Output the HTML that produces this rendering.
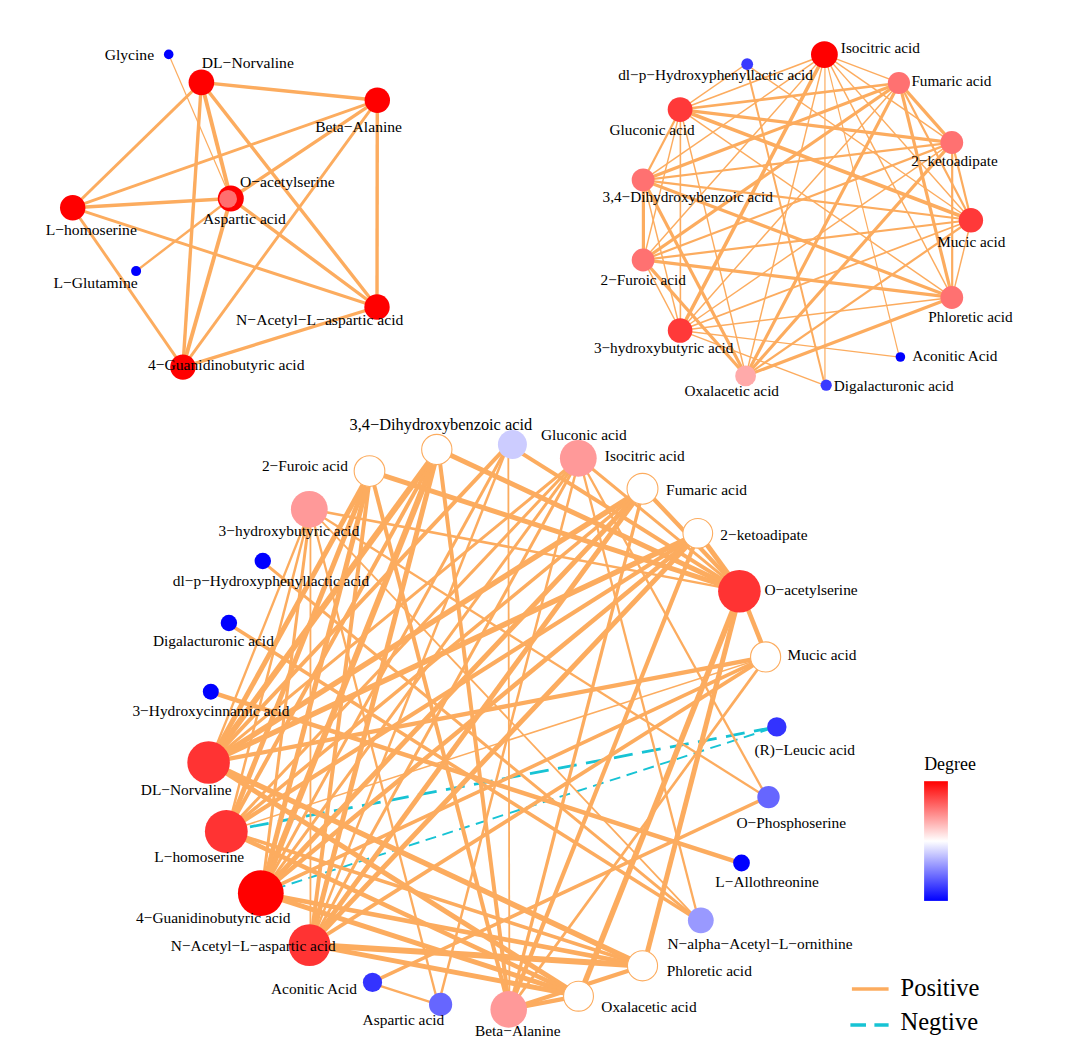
<!DOCTYPE html>
<html><head><meta charset="utf-8"><style>
html,body{margin:0;padding:0;background:#fff;}
svg{display:block;}
</style></head><body>
<svg width="1088" height="1058" viewBox="0 0 1088 1058">
<rect width="1088" height="1058" fill="#FFFFFF"/>
<g stroke-linecap="butt">
<line x1="201.4" y1="82.4" x2="377.3" y2="100.3" stroke="#FCAC5F" stroke-width="3.4"/>
<line x1="201.4" y1="82.4" x2="72.7" y2="207.7" stroke="#FCAC5F" stroke-width="2.9"/>
<line x1="201.4" y1="82.4" x2="230.8" y2="198.5" stroke="#FCAC5F" stroke-width="3.9"/>
<line x1="201.4" y1="82.4" x2="182.9" y2="367.1" stroke="#FCAC5F" stroke-width="3.4"/>
<line x1="201.4" y1="82.4" x2="377" y2="307" stroke="#FCAC5F" stroke-width="3.4"/>
<line x1="168.7" y1="54.4" x2="230.8" y2="198.5" stroke="#FCAC5F" stroke-width="1.2"/>
<line x1="377.3" y1="100.3" x2="72.7" y2="207.7" stroke="#FCAC5F" stroke-width="2.9"/>
<line x1="377.3" y1="100.3" x2="230.8" y2="198.5" stroke="#FCAC5F" stroke-width="3.4"/>
<line x1="377.3" y1="100.3" x2="377" y2="307" stroke="#FCAC5F" stroke-width="3.4"/>
<line x1="377.3" y1="100.3" x2="182.9" y2="367.1" stroke="#FCAC5F" stroke-width="2.9"/>
<line x1="72.7" y1="207.7" x2="230.8" y2="198.5" stroke="#FCAC5F" stroke-width="3.4"/>
<line x1="72.7" y1="207.7" x2="377" y2="307" stroke="#FCAC5F" stroke-width="2.9"/>
<line x1="72.7" y1="207.7" x2="182.9" y2="367.1" stroke="#FCAC5F" stroke-width="2.9"/>
<line x1="136.1" y1="271.1" x2="230.8" y2="198.5" stroke="#FCAC5F" stroke-width="2.4"/>
<line x1="230.8" y1="198.5" x2="182.9" y2="367.1" stroke="#FCAC5F" stroke-width="3.9"/>
<line x1="230.8" y1="198.5" x2="377" y2="307" stroke="#FCAC5F" stroke-width="3.4"/>
<line x1="377" y1="307" x2="182.9" y2="367.1" stroke="#FCAC5F" stroke-width="3.4"/>
<line x1="824.94" y1="54.64" x2="680.38" y2="109.55" stroke="#FCAC5F" stroke-width="1.6"/>
<line x1="824.94" y1="54.64" x2="643.39" y2="180.15" stroke="#FCAC5F" stroke-width="1.45"/>
<line x1="824.94" y1="54.64" x2="643.39" y2="259.88" stroke="#FCAC5F" stroke-width="1.45"/>
<line x1="824.94" y1="54.64" x2="680.38" y2="330.48" stroke="#FCAC5F" stroke-width="3.6"/>
<line x1="824.94" y1="54.64" x2="745.91" y2="375.78" stroke="#FCAC5F" stroke-width="1.45"/>
<line x1="824.94" y1="54.64" x2="824.94" y2="385.39" stroke="#FCAC5F" stroke-width="1.2"/>
<line x1="824.94" y1="54.64" x2="899.38" y2="357.12" stroke="#FCAC5F" stroke-width="1.2"/>
<line x1="824.94" y1="54.64" x2="952.18" y2="297.43" stroke="#FCAC5F" stroke-width="1.45"/>
<line x1="824.94" y1="54.64" x2="971.23" y2="220.01" stroke="#FCAC5F" stroke-width="1.45"/>
<line x1="824.94" y1="54.64" x2="952.18" y2="142.6" stroke="#FCAC5F" stroke-width="1.45"/>
<line x1="824.94" y1="54.64" x2="899.38" y2="82.91" stroke="#FCAC5F" stroke-width="1.45"/>
<line x1="899.38" y1="357.12" x2="680.38" y2="330.48" stroke="#FCAC5F" stroke-width="1.35"/>
<line x1="824.94" y1="385.39" x2="745.91" y2="64.25" stroke="#FCAC5F" stroke-width="2"/>
<line x1="824.94" y1="385.39" x2="680.38" y2="330.48" stroke="#FCAC5F" stroke-width="1.35"/>
<line x1="745.91" y1="64.25" x2="680.38" y2="109.55" stroke="#FCAC5F" stroke-width="1.45"/>
<line x1="745.91" y1="64.25" x2="971.23" y2="220.01" stroke="#FCAC5F" stroke-width="1.45"/>
<line x1="680.38" y1="109.55" x2="899.38" y2="82.91" stroke="#FCAC5F" stroke-width="2.5"/>
<line x1="680.38" y1="109.55" x2="952.18" y2="142.6" stroke="#FCAC5F" stroke-width="3.2"/>
<line x1="680.38" y1="109.55" x2="971.23" y2="220.01" stroke="#FCAC5F" stroke-width="3.6"/>
<line x1="680.38" y1="109.55" x2="952.18" y2="297.43" stroke="#FCAC5F" stroke-width="1.45"/>
<line x1="680.38" y1="109.55" x2="643.39" y2="180.15" stroke="#FCAC5F" stroke-width="2.2"/>
<line x1="680.38" y1="109.55" x2="643.39" y2="259.88" stroke="#FCAC5F" stroke-width="1.45"/>
<line x1="680.38" y1="109.55" x2="680.38" y2="330.48" stroke="#FCAC5F" stroke-width="1.6"/>
<line x1="680.38" y1="109.55" x2="745.91" y2="375.78" stroke="#FCAC5F" stroke-width="1.45"/>
<line x1="899.38" y1="82.91" x2="643.39" y2="180.15" stroke="#FCAC5F" stroke-width="3.2"/>
<line x1="899.38" y1="82.91" x2="643.39" y2="259.88" stroke="#FCAC5F" stroke-width="3.2"/>
<line x1="899.38" y1="82.91" x2="680.38" y2="330.48" stroke="#FCAC5F" stroke-width="1.45"/>
<line x1="899.38" y1="82.91" x2="745.91" y2="375.78" stroke="#FCAC5F" stroke-width="3.2"/>
<line x1="899.38" y1="82.91" x2="952.18" y2="297.43" stroke="#FCAC5F" stroke-width="3.2"/>
<line x1="899.38" y1="82.91" x2="971.23" y2="220.01" stroke="#FCAC5F" stroke-width="2.2"/>
<line x1="899.38" y1="82.91" x2="952.18" y2="142.6" stroke="#FCAC5F" stroke-width="3.2"/>
<line x1="952.18" y1="142.6" x2="643.39" y2="180.15" stroke="#FCAC5F" stroke-width="2.2"/>
<line x1="952.18" y1="142.6" x2="643.39" y2="259.88" stroke="#FCAC5F" stroke-width="2.2"/>
<line x1="952.18" y1="142.6" x2="680.38" y2="330.48" stroke="#FCAC5F" stroke-width="1.45"/>
<line x1="952.18" y1="142.6" x2="745.91" y2="375.78" stroke="#FCAC5F" stroke-width="3.2"/>
<line x1="952.18" y1="142.6" x2="952.18" y2="297.43" stroke="#FCAC5F" stroke-width="2.2"/>
<line x1="952.18" y1="142.6" x2="971.23" y2="220.01" stroke="#FCAC5F" stroke-width="2.2"/>
<line x1="971.23" y1="220.01" x2="643.39" y2="180.15" stroke="#FCAC5F" stroke-width="2.2"/>
<line x1="971.23" y1="220.01" x2="643.39" y2="259.88" stroke="#FCAC5F" stroke-width="2.2"/>
<line x1="971.23" y1="220.01" x2="680.38" y2="330.48" stroke="#FCAC5F" stroke-width="1.8"/>
<line x1="971.23" y1="220.01" x2="745.91" y2="375.78" stroke="#FCAC5F" stroke-width="2.2"/>
<line x1="971.23" y1="220.01" x2="952.18" y2="297.43" stroke="#FCAC5F" stroke-width="1.45"/>
<line x1="952.18" y1="297.43" x2="643.39" y2="180.15" stroke="#FCAC5F" stroke-width="3.2"/>
<line x1="952.18" y1="297.43" x2="643.39" y2="259.88" stroke="#FCAC5F" stroke-width="3.2"/>
<line x1="952.18" y1="297.43" x2="680.38" y2="330.48" stroke="#FCAC5F" stroke-width="1.45"/>
<line x1="952.18" y1="297.43" x2="745.91" y2="375.78" stroke="#FCAC5F" stroke-width="3.2"/>
<line x1="643.39" y1="180.15" x2="745.91" y2="375.78" stroke="#FCAC5F" stroke-width="3.2"/>
<line x1="643.39" y1="180.15" x2="680.38" y2="330.48" stroke="#FCAC5F" stroke-width="1.45"/>
<line x1="643.39" y1="180.15" x2="643.39" y2="259.88" stroke="#FCAC5F" stroke-width="3.2"/>
<line x1="643.39" y1="259.88" x2="745.91" y2="375.78" stroke="#FCAC5F" stroke-width="3.2"/>
<line x1="643.39" y1="259.88" x2="680.38" y2="330.48" stroke="#FCAC5F" stroke-width="1.45"/>
<line x1="775.78" y1="727.06" x2="227.35" y2="831.11" stroke="#17C3D4" stroke-width="2.8" stroke-dasharray="19 9.5" stroke-dashoffset="-3.2"/>
<line x1="775.78" y1="727.06" x2="261.67" y2="893.2" stroke="#17C3D4" stroke-width="1.9" stroke-dasharray="11 6.6" stroke-dashoffset="-5"/>
<line x1="438.34" y1="449.4" x2="209.64" y2="762.48" stroke="#FCAC5F" stroke-width="6"/>
<line x1="438.34" y1="449.4" x2="227.35" y2="831.11" stroke="#FCAC5F" stroke-width="4"/>
<line x1="438.34" y1="449.4" x2="261.67" y2="893.2" stroke="#FCAC5F" stroke-width="6"/>
<line x1="438.34" y1="449.4" x2="310.44" y2="944.85" stroke="#FCAC5F" stroke-width="5"/>
<line x1="438.34" y1="449.4" x2="509.43" y2="1009.16" stroke="#FCAC5F" stroke-width="4"/>
<line x1="438.34" y1="449.4" x2="740.63" y2="590.88" stroke="#FCAC5F" stroke-width="5"/>
<line x1="370.59" y1="471.3" x2="740.63" y2="590.88" stroke="#FCAC5F" stroke-width="5"/>
<line x1="370.59" y1="471.3" x2="509.43" y2="1009.16" stroke="#FCAC5F" stroke-width="4"/>
<line x1="370.59" y1="471.3" x2="209.64" y2="762.48" stroke="#FCAC5F" stroke-width="5"/>
<line x1="370.59" y1="471.3" x2="227.35" y2="831.11" stroke="#FCAC5F" stroke-width="5"/>
<line x1="370.59" y1="471.3" x2="261.67" y2="893.2" stroke="#FCAC5F" stroke-width="5"/>
<line x1="370.59" y1="471.3" x2="310.44" y2="944.85" stroke="#FCAC5F" stroke-width="4"/>
<line x1="579.41" y1="458.23" x2="740.63" y2="590.88" stroke="#FCAC5F" stroke-width="3"/>
<line x1="579.41" y1="458.23" x2="766.85" y2="797.35" stroke="#FCAC5F" stroke-width="2.3"/>
<line x1="579.41" y1="458.23" x2="698.75" y2="920.55" stroke="#FCAC5F" stroke-width="2.3"/>
<line x1="579.41" y1="458.23" x2="438.34" y2="1004.71" stroke="#FCAC5F" stroke-width="2.5"/>
<line x1="579.41" y1="458.23" x2="209.64" y2="762.48" stroke="#FCAC5F" stroke-width="3"/>
<line x1="579.41" y1="458.23" x2="227.35" y2="831.11" stroke="#FCAC5F" stroke-width="3"/>
<line x1="579.41" y1="458.23" x2="261.67" y2="893.2" stroke="#FCAC5F" stroke-width="3"/>
<line x1="579.41" y1="458.23" x2="310.44" y2="944.85" stroke="#FCAC5F" stroke-width="3"/>
<line x1="310.44" y1="509.26" x2="740.63" y2="590.88" stroke="#FCAC5F" stroke-width="2.5"/>
<line x1="310.44" y1="509.26" x2="766.85" y2="797.35" stroke="#FCAC5F" stroke-width="2.3"/>
<line x1="310.44" y1="509.26" x2="438.34" y2="1004.71" stroke="#FCAC5F" stroke-width="2.3"/>
<line x1="310.44" y1="509.26" x2="310.44" y2="944.85" stroke="#FCAC5F" stroke-width="1.8"/>
<line x1="310.44" y1="509.26" x2="261.67" y2="893.2" stroke="#FCAC5F" stroke-width="3"/>
<line x1="310.44" y1="509.26" x2="227.35" y2="831.11" stroke="#FCAC5F" stroke-width="2.5"/>
<line x1="310.44" y1="509.26" x2="209.64" y2="762.48" stroke="#FCAC5F" stroke-width="2.3"/>
<line x1="310.44" y1="509.26" x2="698.75" y2="920.55" stroke="#FCAC5F" stroke-width="1.8"/>
<line x1="508.3" y1="444.95" x2="740.63" y2="590.88" stroke="#FCAC5F" stroke-width="4"/>
<line x1="508.3" y1="444.95" x2="509.43" y2="1009.16" stroke="#FCAC5F" stroke-width="1.8"/>
<line x1="508.3" y1="444.95" x2="209.64" y2="762.48" stroke="#FCAC5F" stroke-width="4"/>
<line x1="508.3" y1="444.95" x2="261.67" y2="893.2" stroke="#FCAC5F" stroke-width="3"/>
<line x1="508.3" y1="444.95" x2="310.44" y2="944.85" stroke="#FCAC5F" stroke-width="2.5"/>
<line x1="261.67" y1="560.91" x2="698.75" y2="920.55" stroke="#FCAC5F" stroke-width="3"/>
<line x1="227.35" y1="623" x2="698.75" y2="920.55" stroke="#FCAC5F" stroke-width="3.5"/>
<line x1="209.64" y1="691.63" x2="740.63" y2="863.23" stroke="#FCAC5F" stroke-width="4.5"/>
<line x1="370.59" y1="982.81" x2="766.85" y2="797.35" stroke="#FCAC5F" stroke-width="3.5"/>
<line x1="370.59" y1="982.81" x2="438.34" y2="1004.71" stroke="#FCAC5F" stroke-width="2.3"/>
<line x1="643.86" y1="488.4" x2="209.64" y2="762.48" stroke="#FCAC5F" stroke-width="5.5"/>
<line x1="643.86" y1="488.4" x2="227.35" y2="831.11" stroke="#FCAC5F" stroke-width="3.5"/>
<line x1="643.86" y1="488.4" x2="261.67" y2="893.2" stroke="#FCAC5F" stroke-width="5"/>
<line x1="643.86" y1="488.4" x2="310.44" y2="944.85" stroke="#FCAC5F" stroke-width="5"/>
<line x1="643.86" y1="488.4" x2="740.63" y2="590.88" stroke="#FCAC5F" stroke-width="4.3"/>
<line x1="643.86" y1="488.4" x2="509.43" y2="1009.16" stroke="#FCAC5F" stroke-width="3.3"/>
<line x1="698.75" y1="533.56" x2="209.64" y2="762.48" stroke="#FCAC5F" stroke-width="5.5"/>
<line x1="698.75" y1="533.56" x2="227.35" y2="831.11" stroke="#FCAC5F" stroke-width="4.2"/>
<line x1="698.75" y1="533.56" x2="261.67" y2="893.2" stroke="#FCAC5F" stroke-width="4.5"/>
<line x1="698.75" y1="533.56" x2="310.44" y2="944.85" stroke="#FCAC5F" stroke-width="5"/>
<line x1="698.75" y1="533.56" x2="740.63" y2="590.88" stroke="#FCAC5F" stroke-width="5"/>
<line x1="698.75" y1="533.56" x2="509.43" y2="1009.16" stroke="#FCAC5F" stroke-width="4.2"/>
<line x1="766.85" y1="656.76" x2="209.64" y2="762.48" stroke="#FCAC5F" stroke-width="4.3"/>
<line x1="766.85" y1="656.76" x2="227.35" y2="831.11" stroke="#FCAC5F" stroke-width="1.5"/>
<line x1="766.85" y1="656.76" x2="261.67" y2="893.2" stroke="#FCAC5F" stroke-width="3.6"/>
<line x1="766.85" y1="656.76" x2="310.44" y2="944.85" stroke="#FCAC5F" stroke-width="3.8"/>
<line x1="766.85" y1="656.76" x2="740.63" y2="590.88" stroke="#FCAC5F" stroke-width="4.5"/>
<line x1="766.85" y1="656.76" x2="509.43" y2="1009.16" stroke="#FCAC5F" stroke-width="2.7"/>
<line x1="643.86" y1="965.71" x2="209.64" y2="762.48" stroke="#FCAC5F" stroke-width="5.5"/>
<line x1="643.86" y1="965.71" x2="227.35" y2="831.11" stroke="#FCAC5F" stroke-width="3.6"/>
<line x1="643.86" y1="965.71" x2="261.67" y2="893.2" stroke="#FCAC5F" stroke-width="4.7"/>
<line x1="643.86" y1="965.71" x2="310.44" y2="944.85" stroke="#FCAC5F" stroke-width="6"/>
<line x1="643.86" y1="965.71" x2="740.63" y2="590.88" stroke="#FCAC5F" stroke-width="5"/>
<line x1="643.86" y1="965.71" x2="509.43" y2="1009.16" stroke="#FCAC5F" stroke-width="4.2"/>
<line x1="579.41" y1="995.88" x2="209.64" y2="762.48" stroke="#FCAC5F" stroke-width="5"/>
<line x1="579.41" y1="995.88" x2="227.35" y2="831.11" stroke="#FCAC5F" stroke-width="4.5"/>
<line x1="579.41" y1="995.88" x2="261.67" y2="893.2" stroke="#FCAC5F" stroke-width="5"/>
<line x1="579.41" y1="995.88" x2="310.44" y2="944.85" stroke="#FCAC5F" stroke-width="5"/>
<line x1="579.41" y1="995.88" x2="740.63" y2="590.88" stroke="#FCAC5F" stroke-width="5.5"/>
<line x1="579.41" y1="995.88" x2="509.43" y2="1009.16" stroke="#FCAC5F" stroke-width="4.5"/>
</g>
<circle cx="168.7" cy="54.4" r="4.8" fill="#0000FF"/>
<circle cx="201.4" cy="82.4" r="12.8" fill="#FF0000"/>
<circle cx="377.3" cy="100.3" r="12.7" fill="#FF0000"/>
<circle cx="230.8" cy="198.5" r="13" fill="#FF0000"/>
<circle cx="228.1" cy="198.9" r="8.9" fill="#FF6F6F"/>
<circle cx="72.7" cy="207.7" r="12.7" fill="#FF0000"/>
<circle cx="136.1" cy="271.1" r="5" fill="#0000FF"/>
<circle cx="377" cy="307" r="12.7" fill="#FF0000"/>
<circle cx="182.9" cy="367.1" r="12.7" fill="#FF0000"/>
<circle cx="824.4" cy="54.6" r="13.4" fill="#FF0000"/>
<circle cx="747.2" cy="64.2" r="5.9" fill="#3939FF"/>
<circle cx="898.9" cy="83" r="11.1" fill="#FF7171"/>
<circle cx="680.1" cy="109.6" r="12.4" fill="#FF3939"/>
<circle cx="951.8" cy="142.5" r="11.4" fill="#FF7171"/>
<circle cx="643.1" cy="179.9" r="11.4" fill="#FF7171"/>
<circle cx="970.9" cy="220.3" r="12.2" fill="#FF3939"/>
<circle cx="643.1" cy="260" r="11.4" fill="#FF7171"/>
<circle cx="951.8" cy="297.5" r="11.4" fill="#FF7171"/>
<circle cx="680.1" cy="330.5" r="12.3" fill="#FF3939"/>
<circle cx="900.4" cy="357" r="4.8" fill="#0000FF"/>
<circle cx="745.6" cy="375.9" r="10.4" fill="#FFAAAA"/>
<circle cx="826.2" cy="385.2" r="5.6" fill="#3939FF"/>
<circle cx="436.8" cy="449.5" r="15.15" fill="#FFFFFF" stroke="#FCAC5F" stroke-width="1.1"/>
<circle cx="512.4" cy="444.5" r="14.5" fill="#CCCCFF"/>
<circle cx="578.3" cy="458.3" r="18.4" fill="#FF9999"/>
<circle cx="369.5" cy="471.1" r="15.35" fill="#FFFFFF" stroke="#FCAC5F" stroke-width="1.1"/>
<circle cx="642.5" cy="488.8" r="15.45" fill="#FFFFFF" stroke="#FCAC5F" stroke-width="1.1"/>
<circle cx="309.3" cy="509.3" r="18.4" fill="#FF9999"/>
<circle cx="697.8" cy="533.3" r="14.85" fill="#FFFFFF" stroke="#FCAC5F" stroke-width="1.1"/>
<circle cx="262.8" cy="561" r="8.2" fill="#0000FF"/>
<circle cx="739.4" cy="591.2" r="21.3" fill="#FF3333"/>
<circle cx="228.9" cy="623" r="8.2" fill="#0000FF"/>
<circle cx="765.6" cy="656.9" r="15.05" fill="#FFFFFF" stroke="#FCAC5F" stroke-width="1.1"/>
<circle cx="210.8" cy="691.7" r="8" fill="#0000FF"/>
<circle cx="776.8" cy="726.9" r="9.7" fill="#3333FF"/>
<circle cx="208.6" cy="762.5" r="21.3" fill="#FF3333"/>
<circle cx="768.5" cy="797.1" r="11.2" fill="#6666FF"/>
<circle cx="226.3" cy="831.5" r="21.4" fill="#FF3333"/>
<circle cx="741.5" cy="863" r="8.4" fill="#0000FF"/>
<circle cx="260.8" cy="893.2" r="22.9" fill="#FF0000"/>
<circle cx="700.8" cy="920.3" r="12.9" fill="#9999FF"/>
<circle cx="309.5" cy="945.1" r="20.9" fill="#FF3333"/>
<circle cx="642.5" cy="965.8" r="15.05" fill="#FFFFFF" stroke="#FCAC5F" stroke-width="1.1"/>
<circle cx="372.5" cy="982.4" r="9.6" fill="#3333FF"/>
<circle cx="578.5" cy="996.2" r="14.95" fill="#FFFFFF" stroke="#FCAC5F" stroke-width="1.1"/>
<circle cx="440.6" cy="1004.4" r="11.6" fill="#6666FF"/>
<circle cx="508.7" cy="1009.4" r="18.3" fill="#FF9999"/>
<g font-family="Liberation Serif, serif" fill="#000">
<text x="104.7" y="60" font-size="15.61">Glycine</text>
<text x="201.8" y="67.7" font-size="15.61">DL−Norvaline</text>
<text x="315.2" y="131.7" font-size="15.61">Beta−Alanine</text>
<text x="240" y="187" font-size="15.61">O−acetylserine</text>
<text x="203.1" y="224.2" font-size="15.61">Aspartic acid</text>
<text x="45.7" y="235" font-size="15.61">L−homoserine</text>
<text x="53.4" y="288.2" font-size="15.61">L−Glutamine</text>
<text x="236.1" y="324.7" font-size="15.61">N−Acetyl−L−aspartic acid</text>
<text x="147.9" y="369.6" font-size="15.61">4−Guanidinobutyric acid</text>
<text x="840.8" y="52.9" font-size="15.25">Isocitric acid</text>
<text x="618.2" y="79.7" font-size="15.25">dl−p−Hydroxyphenyllactic acid</text>
<text x="911.4" y="86.2" font-size="15.25">Fumaric acid</text>
<text x="609.6" y="134.7" font-size="15.25">Gluconic acid</text>
<text x="911.2" y="166.2" font-size="15.25">2−ketoadipate</text>
<text x="602.5" y="201.7" font-size="15.25">3,4−Dihydroxybenzoic acid</text>
<text x="937.2" y="246.5" font-size="15.25">Mucic acid</text>
<text x="600.6" y="284.5" font-size="15.25">2−Furoic acid</text>
<text x="928.3" y="321.8" font-size="15.25">Phloretic acid</text>
<text x="593.9" y="353.1" font-size="15.25">3−hydroxybutyric acid</text>
<text x="912.3" y="360.9" font-size="15.25">Aconitic Acid</text>
<text x="684.6" y="395.9" font-size="15.25">Oxalacetic acid</text>
<text x="833.8" y="391.4" font-size="15.25">Digalacturonic acid</text>
<text x="349.6" y="430.2" font-size="16.35">3,4−Dihydroxybenzoic acid</text>
<text x="540.9" y="439.9" font-size="15.4">Gluconic acid</text>
<text x="604.8" y="460.6" font-size="15.4">Isocitric acid</text>
<text x="261.9" y="470.9" font-size="15.4">2−Furoic acid</text>
<text x="666.1" y="494.6" font-size="15.4">Fumaric acid</text>
<text x="218.6" y="536" font-size="15.4">3−hydroxybutyric acid</text>
<text x="720.3" y="540.2" font-size="15.4">2−ketoadipate</text>
<text x="172.8" y="585.7" font-size="15.4">dl−p−Hydroxyphenyllactic acid</text>
<text x="764.4" y="594.7" font-size="15.4">O−acetylserine</text>
<text x="152.9" y="646.2" font-size="15.4">Digalacturonic acid</text>
<text x="787.6" y="660.2" font-size="15.4">Mucic acid</text>
<text x="132.4" y="715.6" font-size="15.4">3−Hydroxycinnamic acid</text>
<text x="754.4" y="754.5" font-size="15.4">(R)−Leucic acid</text>
<text x="140.8" y="795.1" font-size="15.4">DL−Norvaline</text>
<text x="736.5" y="827.9" font-size="15.4">O−Phosphoserine</text>
<text x="154.3" y="861.7" font-size="15.4">L−homoserine</text>
<text x="715.3" y="886.8" font-size="15.4">L−Allothreonine</text>
<text x="136.1" y="922.7" font-size="15.4">4−Guanidinobutyric acid</text>
<text x="667.4" y="948.5" font-size="15.4">N−alpha−Acetyl−L−ornithine</text>
<text x="170.8" y="951" font-size="15.4">N−Acetyl−L−aspartic acid</text>
<text x="666.8" y="976.4" font-size="15.4">Phloretic acid</text>
<text x="271" y="994.2" font-size="15.4">Aconitic Acid</text>
<text x="601.3" y="1012.2" font-size="15.4">Oxalacetic acid</text>
<text x="362.6" y="1025.1" font-size="15.4">Aspartic acid</text>
<text x="475" y="1036.1" font-size="15.4">Beta−Alanine</text>
<text x="924.2" y="770" font-size="17.9">Degree</text>
<text x="900.5" y="995.6" font-size="24.5">Positive</text>
<text x="900.5" y="1030.1" font-size="24.5">Negtive</text>
</g>
<defs><linearGradient id="deg" x1="0" y1="0" x2="0" y2="1"><stop offset="0" stop-color="#FF0000"/><stop offset="0.5" stop-color="#FFFFFF"/><stop offset="1" stop-color="#0000FF"/></linearGradient></defs>
<rect x="924.1" y="781.2" width="23.8" height="119.7" fill="url(#deg)"/>
<line x1="851.9" y1="989" x2="888.6" y2="989" stroke="#FCAC5F" stroke-width="3.3"/>
<line x1="850.4" y1="1025" x2="888.6" y2="1025" stroke="#17C3D4" stroke-width="3.3" stroke-dasharray="15.6 8.4"/>
</svg></body></html>
